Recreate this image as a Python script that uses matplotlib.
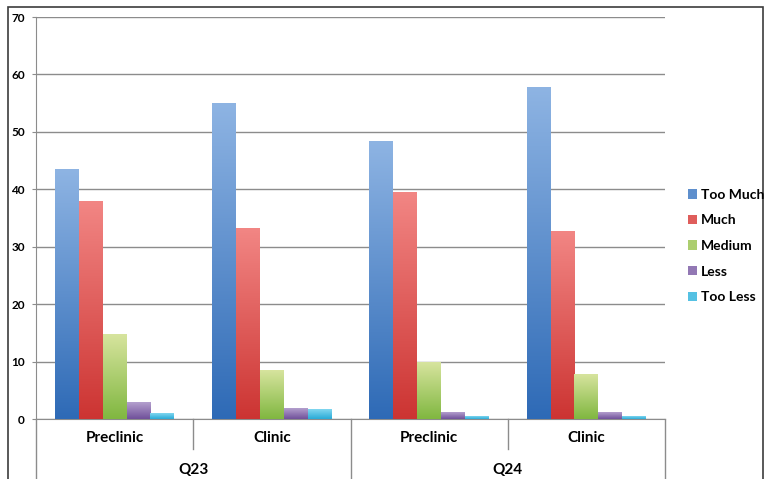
import numpy as np
import matplotlib
matplotlib.use("Agg")
import matplotlib.pyplot as plt
from matplotlib.colors import LinearSegmentedColormap, to_rgb
from matplotlib.patches import Rectangle, Patch

plt.rcParams['font.family'] = ['Lato', 'DejaVu Sans']

groups = ["Q23", "Q24"]
subgroups = ["Preclinic", "Clinic"]
series = ["Too Much", "Much", "Medium", "Less", "Too Less"]

too_much = [43.5, 55.0, 48.4, 57.8]
much = [37.8, 33.1, 39.4, 32.7]
medium = [14.8, 8.5, 9.9, 7.7]
less = [2.8, 1.9, 1.2, 1.2]
too_less = [0.9, 1.6, 0.5, 0.4]
values = [too_much, much, medium, less, too_less]

# (top colour, bottom colour) of each gradient fill
grad_colors = [
    ("#8eb4e3", "#2e6ab6"),
    ("#f28684", "#cc3432"),
    ("#d7e49e", "#80b740"),
    ("#b4a0ce", "#70509a"),
    ("#82d7f0", "#28aad7"),
]

fig = plt.figure(figsize=(7.65, 4.79), dpi=100)
ax = fig.add_axes([36 / 765, 60 / 479, 629 / 765, 402 / 479])

n_cat = len(too_much)
x = np.arange(n_cat)
bar_w = 0.152
grad = np.linspace(1, 0, 256).reshape(-1, 1)

for i, (vals, (top, bottom)) in enumerate(zip(values, grad_colors)):
    cmap = LinearSegmentedColormap.from_list(series[i], [bottom, top])
    bars = ax.bar(x + (i - 2) * bar_w, vals, bar_w, color="none", zorder=3)
    for b in bars:
        x0, w, h = b.get_x(), b.get_width(), b.get_height()
        ax.imshow(grad, cmap=cmap, extent=(x0, x0 + w, 0, h), aspect="auto",
                  vmin=0, vmax=1, zorder=3, interpolation="bicubic")

ax.set_xlim(-0.5, n_cat - 0.5)
ax.set_ylim(0, 70)
ax.set_yticks(np.arange(0, 71, 10))
ax.yaxis.grid(True, color="#8c8c8c", linewidth=1.0, zorder=1)
ax.set_axisbelow(True)
ax.set_xticks([])
for s in ["top", "right"]:
    ax.spines[s].set_visible(False)
ax.spines["left"].set_color("#8c8c8c")
ax.spines["bottom"].set_color("#8c8c8c")
ax.tick_params(axis="y", length=3, color="#8c8c8c", pad=5, labelsize=8.5)
for lab in ax.get_yticklabels():
    lab.set_fontweight("bold")

# two-level category axis
trans = ax.get_xaxis_transform()
short_y = -30 / 402
long_y = -62 / 402
for k in range(n_cat + 1):
    xd = k - 0.5
    yb = long_y if k % 2 == 0 else short_y
    ax.plot([xd, xd], [0, yb], transform=trans, color="#8c8c8c", lw=1.0,
            clip_on=False)
for k in range(n_cat):
    ax.text(k, -19 / 402, subgroups[k % 2], transform=trans, ha="center",
            va="center", fontsize=11, fontweight="bold")
for g, name in enumerate(groups):
    ax.text(2 * g + 0.5, -51 / 402, name, transform=trans, ha="center",
            va="center", fontsize=11, fontweight="bold")

# legend swatches use the middle of each gradient
handles = [Patch(facecolor=0.5 * np.add(to_rgb(t), to_rgb(b)), edgecolor="none")
           for t, b in grad_colors]
leg = fig.legend(handles, series, loc="center left",
                 bbox_to_anchor=(675 / 765, 1 - 246 / 479), frameon=False,
                 handlelength=0.65, handleheight=0.65, handletextpad=0.3,
                 labelspacing=0.98, prop={"weight": "bold", "size": 10})

# outer chart frame
fig.patches.append(Rectangle((8 / 765, -0.05), 755 / 765, 1.05 - 7 / 479,
                             transform=fig.transFigure, fill=False,
                             edgecolor="#3c3c3c", lw=1.2))

fig.savefig("out.png", dpi=100)
